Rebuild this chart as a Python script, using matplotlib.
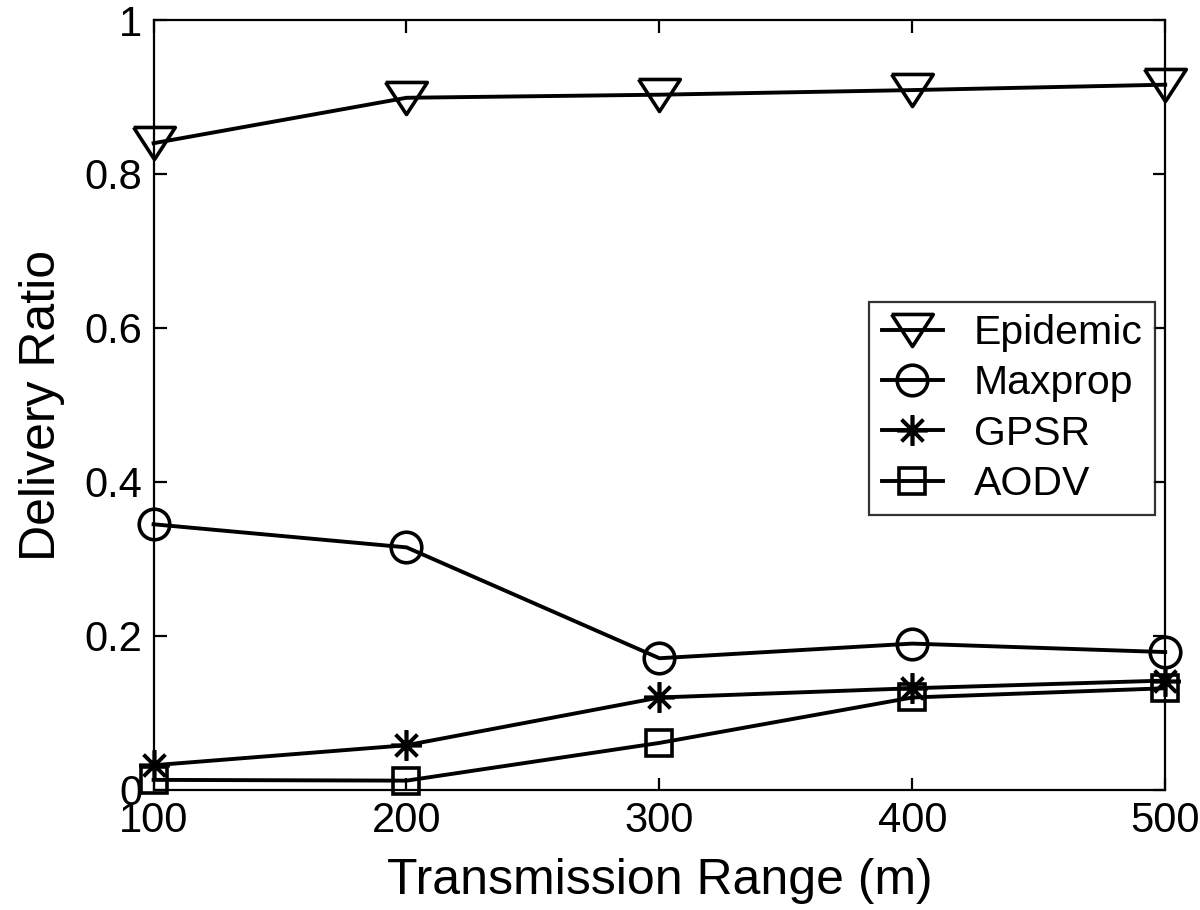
import matplotlib.pyplot as plt

# Data
transmission_range = [100, 200, 300, 400, 500]
epidemic = [0.840, 0.899, 0.903, 0.909, 0.916]
maxprop = [0.345, 0.315, 0.171, 0.190, 0.179]
gpsr = [0.032, 0.058, 0.120, 0.132, 0.142]
aodv = [0.013, 0.012, 0.061, 0.120, 0.132]

plt.rcParams['font.family'] = ['Liberation Sans', 'DejaVu Sans']

fig = plt.figure(figsize=(12, 9.1), dpi=100)
ax = fig.add_axes([0.128, 0.132, 0.843, 0.846])

# wide, MATLAB-like downward triangle
tri = [(-1.3, 1.0), (1.3, 1.0), (0.0, -1.0), (-1.3, 1.0)]

style = dict(color='black', linewidth=2.8, mfc='none', mew=2.6, clip_on=False)
ax.plot(transmission_range, epidemic, marker=tri, markersize=30, label='Epidemic', **style)
ax.plot(transmission_range, maxprop, marker='o', markersize=22, label='Maxprop', **style)
ax.plot(transmission_range, gpsr, marker=(8, 2, 0), markersize=22, label='GPSR', **style)
ax.plot(transmission_range, aodv, marker='s', markersize=19, label='AODV', **style)

ax.set_xlim(100, 500)
ax.set_ylim(0, 1)
ax.set_xticks(transmission_range)
ax.set_yticks([0, 0.2, 0.4, 0.6, 0.8, 1])
ax.set_yticklabels(['0', '0.2', '0.4', '0.6', '0.8', '1'])
ax.tick_params(direction='in', length=9, width=1.6, top=True, right=True,
               labelsize=30, pad=8)
for s in ax.spines.values():
    s.set_linewidth(1.6)

ax.set_xlabel('Transmission Range (m)', fontsize=36, labelpad=12)
ax.set_ylabel('Delivery Ratio', fontsize=36, labelpad=14)

leg = ax.legend(loc='upper right', bbox_to_anchor=(0.99, 0.634), fontsize=29.5,
                frameon=True, fancybox=False, edgecolor='black',
                handlelength=1.5, borderpad=0.3, labelspacing=0.3,
                handletextpad=0.75, borderaxespad=0)
leg.get_frame().set_linewidth(1.6)

fig.savefig('out.png', dpi=100)
